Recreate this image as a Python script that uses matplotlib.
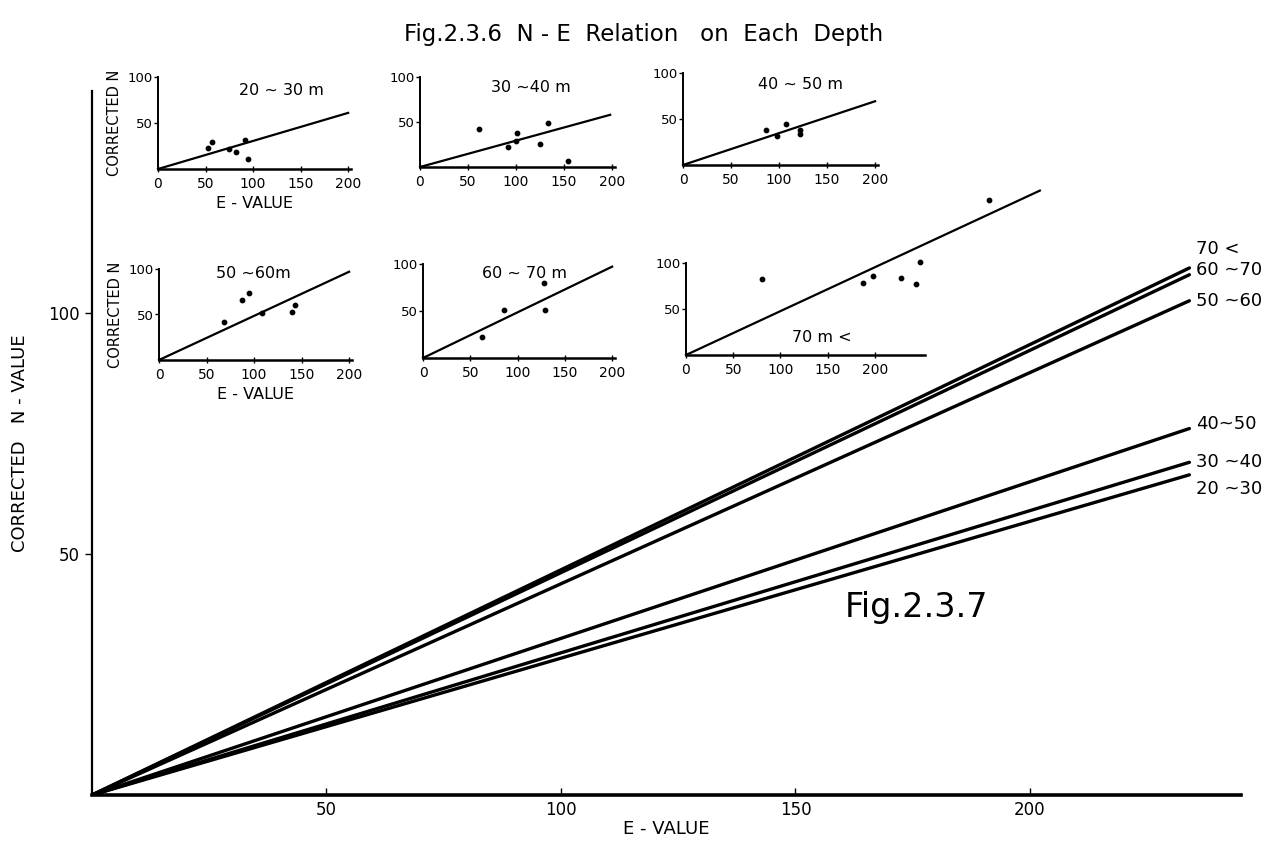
import matplotlib
matplotlib.use("Agg")
import matplotlib.pyplot as plt
import numpy as np

# main chart (Fig.2.3.7): straight N-E lines from origin, end point per depth
depths = ["70 <", "60 ~70", "50 ~60", "40~50", "30 ~40", "20 ~30"]
e_end = 234
n_end = [109.3, 107.9, 102.5, 76.0, 69.0, 66.4]

# inset data (Fig.2.3.6)
inset_titles = ["20 ~ 30 m", "30 ~40 m", "40 ~ 50 m", "50 ~60m", "60 ~ 70 m", "70 m <"]
inset_e = [
    [52.6, 57, 75, 82, 91, 95],
    [61, 91.5, 101, 100, 125, 133, 154],
    [86.7, 97.7, 107.5, 122, 122],
    [68.4, 87.7, 94.4, 108, 140, 143.5],
    [62.4, 85.7, 127.7, 129.5],
    [80.8, 187, 197.5, 227.5, 243.4, 248, 321],
]
inset_n = [
    [22.5, 29, 22, 19, 31, 11],
    [42.7, 21.9, 38.3, 29.2, 25.5, 48.9, 7],
    [38.3, 31.8, 44.5, 37.6, 34],
    [41.4, 66, 74, 51.3, 53, 60.4],
    [21.9, 51.2, 79.5, 51.2],
    [83, 78.3, 85.6, 84, 77.6, 101, 168],
]
# fitted line end point of each inset
line_e = [200, 198, 200, 200, 200, 374.6]
line_n = [61, 58, 69.3, 97, 97.2, 178.7]

W, H = 1288, 847
fig = plt.figure(figsize=(W / 100, H / 100), dpi=100)


def px_axes(left, bottom, right, top):
    return fig.add_axes([left / W, 1 - bottom / H, (right - left) / W, (bottom - top) / H])


# ---- main axes
ax = px_axes(92, 795, 1241, 91)
ax.set_xlim(0, 245)
ax.set_ylim(0, 146)
for s in ["top", "right"]:
    ax.spines[s].set_visible(False)
ax.spines["bottom"].set_linewidth(2.6)
ax.spines["left"].set_linewidth(1.6)
ax.set_xticks([50, 100, 150, 200])
ax.set_yticks([50, 100])
ax.tick_params(axis="x", direction="in", length=5, width=1, labelsize=12, pad=4)
ax.tick_params(axis="y", direction="out", length=5, width=1, labelsize=12)
ax.set_xlabel("E - VALUE", fontsize=13, labelpad=1)
ax.set_ylabel("CORRECTED   N - VALUE", fontsize=13, labelpad=14)

label_dy = [4, 1, 0, 1, 0, -3]
for lab, ne, dy in zip(depths, n_end, label_dy):
    ax.plot([0, e_end], [0, ne], color="black", lw=2.4, solid_capstyle="round")
    ax.text(e_end + 1.5, ne + dy, lab, fontsize=13, ha="left", va="center")

ax.text(160.5, 38.8, "Fig.2.3.7", fontsize=24, ha="left", va="center")

fig.text(0.5, 1 - 35 / H, "Fig.2.3.6  N - E  Relation   on  Each  Depth",
         fontsize=16.5, ha="center", va="center")

# ---- insets: (left px, bottom px, right px, top px, xmax)
inset_boxes = [
    (158, 169, 351, 77, 203),
    (420, 167, 615, 77, 203),
    (683, 165, 878, 73, 203),
    (159, 360, 352, 269, 203),
    (423, 358, 615, 264, 203),
    (686, 355, 925, 263, 253),
]
title_pos = [(130, 85), (115, 88), (122, 88), (99, 95), (62, 90), (144, 19)]
title_ha = ["center", "center", "center", "center", "left", "center"]

for i, (l, b, r, t, xmax) in enumerate(inset_boxes):
    a = px_axes(l, b, r, t)
    a.set_xlim(0, xmax)
    a.set_ylim(0, 100)
    a.patch.set_alpha(0)
    for s in ["top", "right"]:
        a.spines[s].set_visible(False)
    a.spines["bottom"].set_linewidth(1.8)
    a.spines["left"].set_linewidth(1.4)
    a.set_xticks([0, 50, 100, 150, 200])
    a.set_yticks([50, 100])
    a.tick_params(axis="x", direction="inout", length=4, width=1, labelsize=10, pad=4)
    a.tick_params(axis="y", direction="out", length=3, width=1, labelsize=9.5, pad=1)
    a.plot([0, line_e[i]], [0, line_n[i]], color="black", lw=1.6, clip_on=False)
    a.scatter(inset_e[i], inset_n[i], s=10, color="black", clip_on=False, zorder=3)
    a.text(title_pos[i][0], title_pos[i][1], inset_titles[i], fontsize=11.5,
           ha=title_ha[i], va="center")
    if i in (0, 3):
        a.set_ylabel("CORRECTED N", fontsize=10.5, labelpad=4)
        a.set_xlabel("E - VALUE", fontsize=11.5, labelpad=3)

fig.savefig("out.png", dpi=100)
